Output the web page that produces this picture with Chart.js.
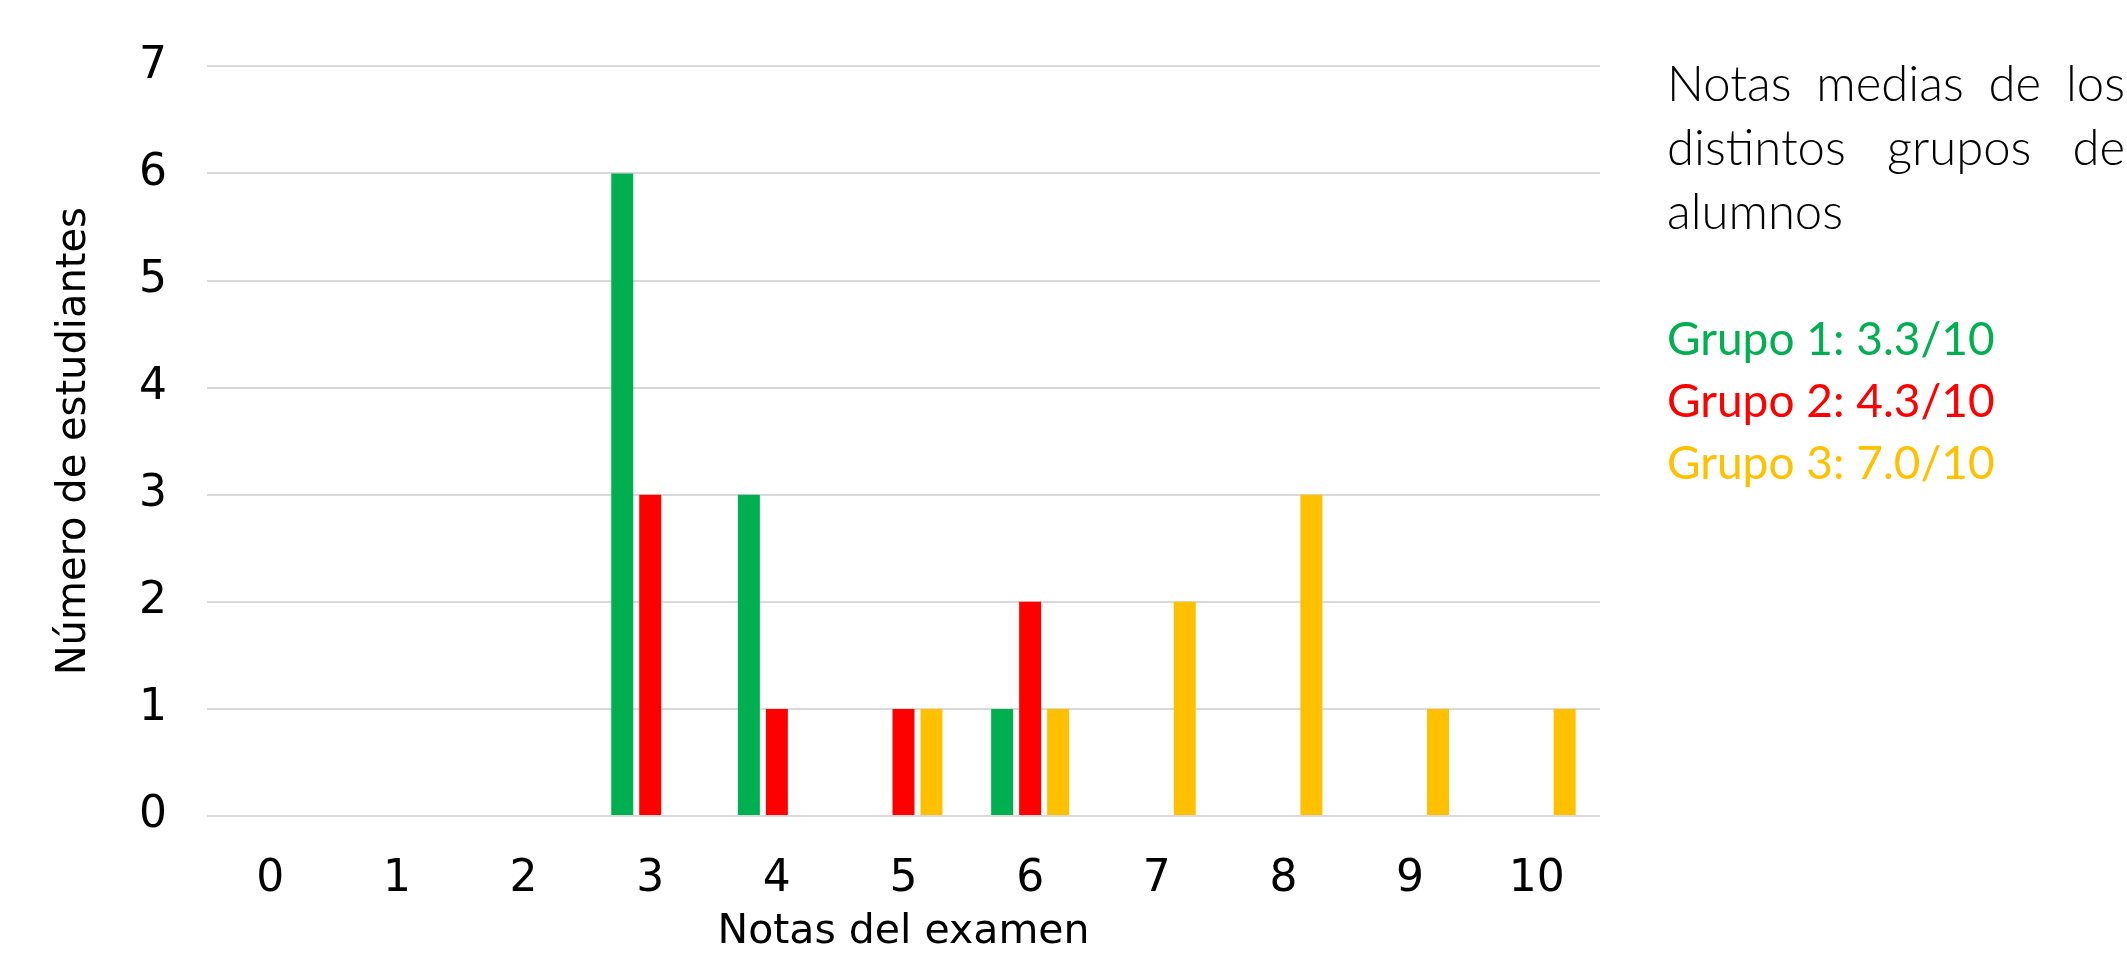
<!DOCTYPE html>
<html lang="es">
<head>
<meta charset="utf-8">
<title>Notas del examen por grupo</title>
<script src="https://cdn.jsdelivr.net/npm/chart.js@4.4.1/dist/chart.umd.min.js"></script>
<style>
  html, body { margin: 0; padding: 0; background: #ffffff; }
  #wrap { position: relative; width: 2127px; height: 954px; overflow: hidden; }
  #chart { position: absolute; left: 0; top: 0; }
  .note { position: absolute; left: 1667px; width: 458px; font-family: Lato, "Noto Sans", sans-serif; white-space: nowrap; }
  .note .line { display: block; }
  .note .just { text-align: justify; text-align-last: justify; white-space: normal; }
  #titleNote { top: 50px; font-size: 49px; line-height: 64px; font-weight: 300; color: #000; }
  #groupNote { top: 307px; font-size: 46px; line-height: 62px; font-weight: 400; }
</style>
</head>
<body>
<div id="wrap">
  <canvas id="chart" width="2127" height="954"></canvas>
  <div class="note" id="titleNote">
    <span class="line just">Notas medias de los</span>
    <span class="line just">distintos grupos de</span>
    <span class="line">alumnos</span>
  </div>
  <div class="note" id="groupNote"></div>
</div>
<script>
// Exam grades 0..10 and how many students of each group got them
const grades = ['0', '1', '2', '3', '4', '5', '6', '7', '8', '9', '10'];
const grupo1 = [0, 0, 0, 6, 3, 0, 1, 0, 0, 0, 0];
const grupo2 = [0, 0, 0, 3, 1, 1, 2, 0, 0, 0, 0];
const grupo3 = [0, 0, 0, 0, 0, 1, 1, 2, 3, 1, 1];

const seriesNames = ['Grupo 1', 'Grupo 2', 'Grupo 3'];
const seriesColors = ['#00B050', '#FF0000', '#FFC000'];

// Mean grade of each group, shown beside the chart
const groupMeans = ['3.3/10', '4.3/10', '7.0/10'];

const axisFont = 'DejaVu Sans';

const groupNote = document.getElementById('groupNote');
seriesNames.forEach((name, i) => {
  const span = document.createElement('span');
  span.className = 'line';
  span.style.color = seriesColors[i];
  span.textContent = name + ': ' + groupMeans[i];
  groupNote.appendChild(span);
});

const seriesData = [grupo1, grupo2, grupo3];

new Chart(document.getElementById('chart'), {
  type: 'bar',
  data: {
    labels: grades,
    datasets: seriesNames.map((name, i) => ({
      label: name,
      data: seriesData[i],
      backgroundColor: seriesColors[i],
      borderWidth: 0,
      categoryPercentage: 0.663,
      barPercentage: 0.786
    }))
  },
  options: {
    responsive: false,
    animation: false,
    layout: { padding: { left: 0, right: 527, top: 64, bottom: 0 } },
    plugins: {
      legend: { display: false },
      tooltip: { enabled: false }
    },
    scales: {
      x: {
        grid: { display: false, drawTicks: false },
        border: { display: false },
        ticks: {
          color: '#000',
          padding: 37,
          font: { family: axisFont, size: 44, lineHeight: 1.2 }
        },
        title: {
          display: true,
          text: 'Notas del examen',
          color: '#000',
          font: { family: axisFont, size: 41, lineHeight: 1.0 },
          padding: { top: 0, bottom: 1 }
        },
        afterFit: (scale) => { scale.height = 138; }
      },
      y: {
        min: 0,
        max: 7,
        grid: { color: '#D9D9D9', lineWidth: 2, drawTicks: false },
        border: { display: false },
        ticks: {
          stepSize: 1,
          color: '#000',
          padding: 40,
          font: { family: axisFont, size: 44, lineHeight: 1.2 }
        },
        title: {
          display: true,
          text: 'Número de estudiantes',
          color: '#000',
          font: { family: axisFont, size: 40, lineHeight: 1.2 },
          padding: { top: 51, bottom: 0 }
        },
        afterFit: (scale) => { scale.width = 207; }
      }
    }
  }
});
</script>
</body>
</html>
